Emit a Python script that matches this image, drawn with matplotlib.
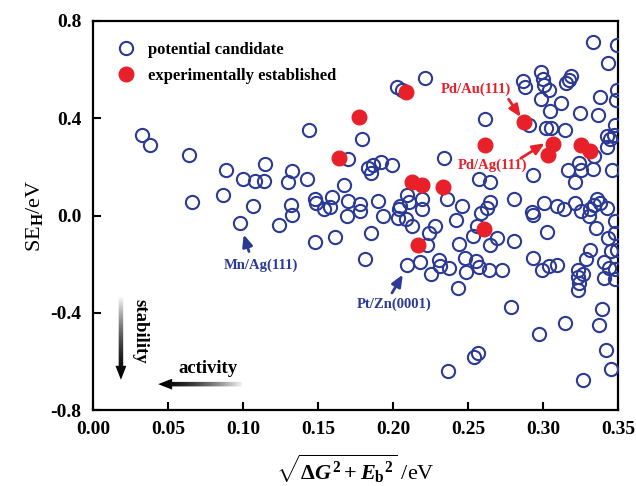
import matplotlib
matplotlib.use('Agg')
import matplotlib.pyplot as plt
import numpy as np
from matplotlib.patches import Polygon

# open circles: potential candidates (x = sqrt(dG^2 + Eb^2), y = SE_H)
cand_x = [0.033, 0.038, 0.064, 0.144, 0.179, 0.170, 0.183, 0.089, 0.100, 0.108, 0.114, 0.115,
          0.133, 0.130, 0.143, 0.167, 0.087, 0.066, 0.107, 0.132, 0.148, 0.149, 0.159, 0.154,
          0.158, 0.170, 0.178, 0.178, 0.169, 0.133, 0.098, 0.124, 0.148, 0.1615, 0.1815, 0.185,
          0.333, 0.349, 0.343, 0.349, 0.3487, 0.2215, 0.2026, 0.206, 0.2864, 0.288, 0.2987, 0.2997,
          0.3004, 0.3042, 0.2987, 0.312, 0.317, 0.3187, 0.3155, 0.3377, 0.3044, 0.3244, 0.3364, 0.348,
          0.2615, 0.2909, 0.302, 0.3055, 0.3144, 0.3427, 0.3447, 0.3424, 0.3475, 0.3337, 0.2342, 0.1867,
          0.192, 0.1993, 0.1855, 0.2575, 0.2649, 0.293, 0.3164, 0.3242, 0.3249, 0.3209, 0.333, 0.346,
          0.2804, 0.2649, 0.2627, 0.246, 0.236, 0.2193, 0.2193, 0.2093, 0.2104, 0.2044, 0.2037, 0.1897,
          0.3004, 0.2927, 0.3093, 0.3137, 0.3209, 0.3249, 0.336, 0.3377, 0.3427, 0.3309,
          0.1931, 0.2033, 0.2089, 0.2127, 0.2278, 0.2238, 0.2227, 0.242, 0.2437, 0.256, 0.2533, 0.2587,
          0.2644, 0.2693, 0.2809, 0.293, 0.3027, 0.3304, 0.3337, 0.3349, 0.3433, 0.348, 0.348, 0.3449,
          0.3309, 0.3287, 0.3404, 0.3437, 0.348, 0.3404, 0.3477, 0.3233, 0.3267, 0.3233, 0.3242, 0.3233,
          0.2933, 0.2993, 0.3042, 0.3093, 0.2727, 0.2637, 0.257, 0.2553, 0.2482, 0.2487, 0.2375, 0.2311,
          0.2304, 0.2255, 0.2177, 0.2093, 0.2433, 0.2789, 0.2971, 0.3144, 0.3393, 0.3371, 0.3422, 0.3449,
          0.3267, 0.2567, 0.2542, 0.2364, 0.349]
cand_y = [0.332, 0.290, 0.249, 0.353, 0.315, 0.233, 0.196, 0.189, 0.152, 0.141, 0.141, 0.212,
          0.185, 0.137, 0.152, 0.127, 0.086, 0.055, 0.038, 0.045, 0.066, 0.052, 0.075, 0.025,
          0.036, 0.059, 0.049, 0.018, -0.003, 0.004, -0.030, -0.040, -0.108, -0.088, -0.180, -0.071,
          0.715, 0.700, 0.626, 0.517, 0.476, 0.565, 0.528, 0.517, 0.554, 0.528, 0.592, 0.562,
          0.537, 0.514, 0.479, 0.462, 0.558, 0.574, 0.544, 0.489, 0.428, 0.421, 0.414, 0.373,
          0.397, 0.373, 0.360, 0.360, 0.353, 0.325, 0.315, 0.280, 0.332, 0.246, 0.237, 0.209,
          0.220, 0.206, 0.176, 0.152, 0.137, 0.168, 0.186, 0.216, 0.189, 0.137, 0.192, 0.189,
          0.066, 0.055, 0.032, 0.041, 0.066, 0.066, 0.027, 0.086, 0.055, 0.041, 0.025, 0.059,
          0.052, 0.014, 0.038, 0.025, 0.052, 0.018, 0.066, 0.052, 0.032, 0.027,
          -0.003, -0.012, -0.014, -0.044, -0.044, -0.071, -0.122, -0.019, -0.119, -0.041, -0.085, 0.011,
          -0.123, -0.092, -0.105, 0.004, -0.068, 0.000, 0.045, -0.051, -0.092, -0.023, -0.071, -0.146,
          -0.142, -0.180, -0.191, -0.215, -0.220, -0.258, -0.262, -0.222, -0.239, -0.252, -0.276, -0.306,
          -0.176, -0.224, -0.208, -0.204, -0.222, -0.222, -0.210, -0.187, -0.176, -0.232, -0.217, -0.208,
          -0.183, -0.242, -0.190, -0.205, -0.297, -0.375, -0.488, -0.440, -0.383, -0.451, -0.554, -0.632,
          -0.677, -0.566, -0.581, -0.641, -0.140]

# filled circles: experimentally established
exp_x = [0.177, 0.164, 0.2089, 0.2871, 0.2615, 0.3064, 0.3033, 0.3253, 0.331, 0.2127, 0.2193,
         0.2333, 0.2167, 0.2604]
exp_y = [0.407, 0.237, 0.506, 0.383, 0.291, 0.295, 0.250, 0.291, 0.267, 0.137, 0.127,
         0.116, -0.122, -0.057]

xticks = [0.00, 0.05, 0.10, 0.15, 0.20, 0.25, 0.30, 0.35]
yticks = [-0.8, -0.4, 0.0, 0.4, 0.8]

blue = '#2b3a94'
red = '#e8202a'

plt.rcParams['font.family'] = 'Liberation Serif'
plt.rcParams['font.weight'] = 'bold'
plt.rcParams['mathtext.fontset'] = 'custom'
plt.rcParams['mathtext.rm'] = 'Liberation Serif:bold'
plt.rcParams['mathtext.it'] = 'Liberation Serif:bold:italic'
plt.rcParams['mathtext.bf'] = 'Liberation Serif:bold'
plt.rcParams['axes.unicode_minus'] = False

fig = plt.figure(figsize=(6.36, 4.86), dpi=100)
ax = fig.add_axes([0.146, 0.156, 0.826, 0.801])
ax.set_xlim(0, 0.35)
ax.set_ylim(-0.8, 0.8)

ax.plot(cand_x, cand_y, 'o', ls='none', mfc='none', mec=blue, mew=1.5, ms=9.5,
        label='potential candidate', zorder=3)
ax.plot(exp_x, exp_y, 'o', ls='none', mfc=red, mec=red, ms=10.5, label='experimentally established',
        zorder=4)

ax.set_xticks(xticks)
ax.set_yticks(yticks)
ax.set_xticklabels(['%.2f' % v for v in xticks])
ax.set_yticklabels(['%.1f' % v for v in yticks])
ax.tick_params(direction='in', length=6, width=1.5, labelsize=14, pad=8)
for s in ax.spines.values():
    s.set_linewidth(1.6)

ax.set_xlabel(r'$\sqrt{\Delta G^2 + {E_\mathrm{b}}^2}$ /eV', fontsize=16, labelpad=10)
ax.set_ylabel(r'SE$_\mathrm{H}$/eV', fontsize=16, labelpad=4)

ax.legend(loc='upper left', bbox_to_anchor=(0.01, 0.975), frameon=False, fontsize=12,
          handletextpad=0.3, labelspacing=0.6, borderaxespad=0.3)

# labelled systems
arr = dict(arrowstyle='-|>,head_length=0.7,head_width=0.3', lw=2, shrinkA=0, shrinkB=0)
ax.text(0.2555, 0.517, 'Pd/Au(111)', color=red, fontsize=10.5, ha='center', va='center')
ax.annotate('', xy=(0.285, 0.405), xytext=(0.277, 0.478), arrowprops=dict(arr, color=red))
ax.text(0.266, 0.206, 'Pd/Ag(111)', color=red, fontsize=10.5, ha='center', va='center')
ax.annotate('', xy=(0.301, 0.297), xytext=(0.285, 0.235), arrowprops=dict(arr, color=red))
ax.text(0.1123, -0.205, 'Mn/Ag(111)', color=blue, fontsize=10.5, ha='center', va='center')
ax.annotate('', xy=(0.1005, -0.078), xytext=(0.104, -0.148), arrowprops=dict(arr, color=blue))
ax.text(0.2004, -0.365, 'Pt/Zn(0001)', color=blue, fontsize=10.5, ha='center', va='center')
ax.annotate('', xy=(0.2065, -0.243), xytext=(0.1993, -0.318), arrowprops=dict(arr, color=blue))


def grad_arrow(tail, tip, shaft_px, head_w_px, head_len_px):
    # build the arrow outline in pixels, then back to data coords
    p0 = ax.transData.transform(tail)
    p1 = ax.transData.transform(tip)
    d = p1 - p0
    L = np.hypot(*d)
    u = d / L
    n = np.array([-u[1], u[0]])
    hb = p1 - u * head_len_px
    pts = [p0 + n * shaft_px / 2, hb + n * shaft_px / 2, hb + n * head_w_px / 2, p1,
           hb - n * head_w_px / 2, hb - n * shaft_px / 2, p0 - n * shaft_px / 2]
    pts = ax.transData.inverted().transform(np.array(pts))
    poly = Polygon(pts, closed=True, facecolor='none', edgecolor='none', transform=ax.transData)
    ax.add_patch(poly)
    t = np.linspace(0, 1, 200)
    vals = 0.97 * t ** 1.6   # dark at the tip, fading towards the tail
    xmin, xmax = pts[:, 0].min(), pts[:, 0].max()
    ymin, ymax = pts[:, 1].min(), pts[:, 1].max()
    if abs(d[0]) > abs(d[1]):
        img = vals[None, :] if d[0] < 0 else vals[None, ::-1]
    else:
        img = vals[:, None] if d[1] < 0 else vals[::-1, None]
    im = ax.imshow(img, extent=[xmin, xmax, ymin, ymax], origin='lower', aspect='auto',
                   cmap='gray', vmin=0, vmax=1, interpolation='bilinear', zorder=5)
    im.set_clip_path(poly)


grad_arrow((0.0187, -0.335), (0.0187, -0.675), 4.5, 11, 14)
grad_arrow((0.0995, -0.693), (0.0435, -0.693), 4.5, 11, 14)
ax.set_xlim(0, 0.35)
ax.set_ylim(-0.8, 0.8)
ax.text(0.0315, -0.475, 'stability', rotation=-90, fontsize=13.5, ha='center', va='center')
ax.text(0.077, -0.627, 'activity', fontsize=13.5, ha='center', va='center')

fig.savefig('out.png', dpi=100)
